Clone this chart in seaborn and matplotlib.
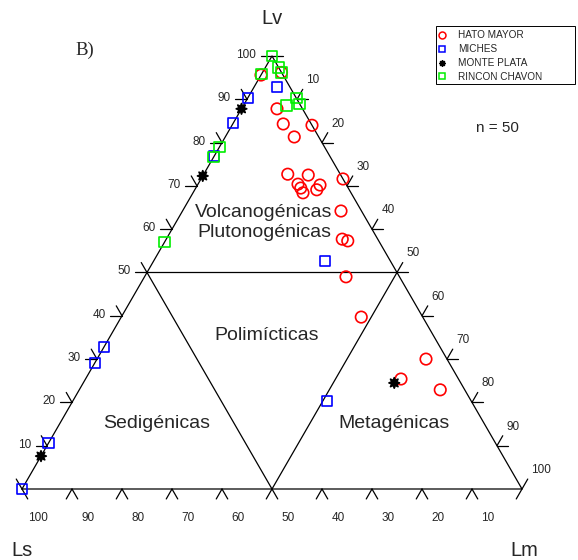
import numpy as np
import pandas as pd
import matplotlib
matplotlib.use("Agg")
import matplotlib.pyplot as plt
import seaborn as sns
from matplotlib.lines import Line2D
from matplotlib.patches import Rectangle

# ---------------- data (Lv, Lm, Ls in %) ----------------
groups = ["HATO MAYOR", "MICHES", "MONTE PLATA", "RINCON CHAVON"]

hato_lv = [95.6, 96.2, 87.8, 84.3, 84.0, 81.3, 72.7, 72.5, 70.4, 69.5, 68.4,
           70.2, 69.1, 71.6, 64.2, 57.7, 57.3, 49.0, 39.7, 30.0, 25.4, 22.9]
hato_lm = [0.0, 3.8, 7.1, 10.1, 16.0, 13.8, 16.8, 21.0, 20.0, 21.0, 22.0,
           24.5, 24.4, 28.4, 31.7, 35.2, 36.5, 40.3, 48.0, 65.8, 63.1, 72.2]
hato_ls = [4.4, 0.0, 5.1, 5.6, 0.0, 4.9, 10.5, 6.5, 9.6, 9.5, 9.6,
           5.3, 6.5, 0.0, 4.1, 7.1, 6.2, 10.7, 12.3, 4.2, 11.5, 4.9]

miches_lv = [0.0, 10.6, 29.1, 32.8, 76.9, 84.5, 90.3, 92.8, 52.7, 20.3]
miches_lm = [0.0, 0.0, 0.0, 0.0, 0.0, 0.0, 0.0, 4.6, 34.3, 50.9]
miches_ls = [100.0, 89.4, 70.9, 67.2, 23.1, 15.5, 9.7, 2.6, 13.0, 28.8]

monte_lv = [7.6, 72.3, 87.8, 24.5]
monte_lm = [0.0, 0.0, 0.0, 62.2]
monte_ls = [92.4, 27.7, 12.2, 13.3]

rincon_lv = [100.0, 95.8, 97.4, 96.2, 90.3, 88.9, 88.5, 79.0, 76.7, 57.0]
rincon_lm = [0.0, 0.0, 2.6, 3.8, 9.7, 11.0, 8.6, 0.0, 0.0, 0.0]
rincon_ls = [0.0, 4.2, 0.0, 0.0, 0.0, 0.1, 2.9, 21.0, 23.3, 43.0]

tick_values = [0, 10, 20, 30, 40, 50, 60, 70, 80, 90, 100]
tick_labels = ["10", "20", "30", "40", "50", "60", "70", "80", "90", "100"]
field_names = ["Volcanogénicas\nPlutonogénicas", "Polimícticas", "Sedigénicas", "Metagénicas"]

colors = {"HATO MAYOR": "#ff0000", "MICHES": "#0000ff",
          "MONTE PLATA": "#000000", "RINCON CHAVON": "#00ee00"}
markers = {"HATO MAYOR": "o", "MICHES": "s", "MONTE PLATA": (8, 1, 0), "RINCON CHAVON": "s"}
sizes = {"HATO MAYOR": 68, "MICHES": 52, "MONTE PLATA": 58, "RINCON CHAVON": 58}

S3 = np.sqrt(3) / 2


def tern(lv, lm):
    lv = np.asarray(lv, float)
    lm = np.asarray(lm, float)
    return lm + lv / 2.0, lv * S3


frames = []
for g, lv, lm, ls in [("HATO MAYOR", hato_lv, hato_lm, hato_ls),
                      ("MICHES", miches_lv, miches_lm, miches_ls),
                      ("MONTE PLATA", monte_lv, monte_lm, monte_ls),
                      ("RINCON CHAVON", rincon_lv, rincon_lm, rincon_ls)]:
    tot = np.asarray(lv) + np.asarray(lm) + np.asarray(ls)
    x, y = tern(np.asarray(lv) / tot * 100, np.asarray(lm) / tot * 100)
    frames.append(pd.DataFrame({"x": x, "y": y, "group": g}))
df = pd.concat(frames, ignore_index=True)

# ---------------- figure ----------------
sns.set_theme(style="white")
plt.rcParams["font.family"] = ["Liberation Sans", "DejaVu Sans"]

fig = plt.figure(figsize=(5.78, 5.60), dpi=100)
ax = fig.add_axes([0, 0, 1, 1])
ax.set_xlim(-4.4, 111.2)
ax.set_ylim(-14.2, 97.8)
ax.axis("off")

lw = 0.9
A = np.array([0.0, 0.0])          # Ls
B = np.array([100.0, 0.0])        # Lm
C = np.array([50.0, 100 * S3])    # Lv
tri = np.array([A, B, C, A])
ax.plot(tri[:, 0], tri[:, 1], color="black", lw=lw, zorder=2)

# inner field lines
mL = (A + C) / 2
mR = (B + C) / 2
mB = (A + B) / 2
for p, q in [(mL, mR), (mL, mB), (mR, mB)]:
    ax.plot([p[0], q[0]], [p[1], q[1]], color="black", lw=lw, zorder=2)

edges = [(A, B), (B, C), (C, A)]


def on_edge_line(p, q):
    for e0, e1 in edges:
        d = e1 - e0
        c1 = d[0] * (p[1] - e0[1]) - d[1] * (p[0] - e0[0])
        c2 = d[0] * (q[1] - e0[1]) - d[1] * (q[0] - e0[0])
        if abs(c1) < 1e-6 and abs(c2) < 1e-6:
            return True
    return False


L = 2.3
dirs = {
    "bottom": [np.array([-0.5, -S3]), np.array([0.5, -S3])],
    "left": [np.array([-1.0, 0.0]), np.array([-0.5, S3])],
    "right": [np.array([1.0, 0.0]), np.array([0.5, S3])],
}
for v in tick_values:
    pts = {
        "bottom": np.array(tern(0, 100 - v), float),   # Ls = v
        "left": np.array(tern(v, 0), float),           # Lv = v
        "right": np.array(tern(100 - v, v), float),    # Lm = v
    }
    for side, p in pts.items():
        for d in dirs[side]:
            q = p + L * d
            if on_edge_line(p, q):
                continue
            ax.plot([p[0], q[0]], [p[1], q[1]], color="black", lw=lw, zorder=2)

fs_tick = 8.5
for v, lab in zip(tick_values[1:], tick_labels):
    # bottom (Ls)
    px, py = tern(0, 100 - v)
    ax.text(px + 3.2, py - 5.8, lab, ha="center", va="center", fontsize=fs_tick)
    # left (Lv)
    px, py = tern(v, 0)
    ax.text(px - 3.2, py + 0.2, lab, ha="right", va="center", fontsize=fs_tick)
    # right (Lm)
    px, py = tern(100 - v, v)
    ax.text(px + 1.9, py + 3.8, lab, ha="left", va="center", fontsize=fs_tick)

# apex labels
ax.text(50, 94.2, "Lv", ha="center", va="center", fontsize=14.5)
ax.text(0, -12.2, "Ls", ha="center", va="center", fontsize=14.5)
ax.text(100.4, -12.2, "Lm", ha="center", va="center", fontsize=14.5)
ax.text(12.6, 87.8, "B)", ha="center", va="center", fontsize=13.5,
        family=["Liberation Serif", "DejaVu Serif"])
ax.text(95.0, 72.2, "n = 50", ha="center", va="center", fontsize=11)

# field names
ax.text(48.4, 53.3, field_names[0], ha="center", va="center", fontsize=14, linespacing=1.3)
ax.text(49.0, 30.8, field_names[1], ha="center", va="center", fontsize=14)
ax.text(27.0, 13.0, field_names[2], ha="center", va="center", fontsize=14)
ax.text(74.4, 13.0, field_names[3], ha="center", va="center", fontsize=14)

# points
sns.scatterplot(data=df, x="x", y="y", hue="group", style="group", size="group",
                palette=colors, markers=markers, sizes=sizes, legend=False,
                linewidth=1.2, ax=ax, zorder=5, clip_on=False)
coll = ax.collections[-1]
fc = np.array(coll.get_facecolors())
ec = fc.copy()
fc_new = fc.copy()
is_black = (fc[:, 0] < 0.1) & (fc[:, 1] < 0.1) & (fc[:, 2] < 0.1)
fc_new[~is_black, 3] = 0.0
coll.set_edgecolors(ec)
coll.set_facecolors(fc_new)

# legend
handles = []
for g in groups:
    m = markers[g]
    if g == "MONTE PLATA":
        h = Line2D([], [], ls="none", marker=m, color=colors[g], markersize=4.5)
    else:
        h = Line2D([], [], ls="none", marker=m, markerfacecolor="none",
                   markeredgecolor=colors[g], markeredgewidth=1.1, markersize=5)
    handles.append(h)
leg = ax.legend(handles, groups, loc="upper left",
                bbox_to_anchor=(434 / 578, 1 - 27 / 560), bbox_transform=fig.transFigure,
                borderaxespad=0, frameon=False, fontsize=7.2,
                handlelength=0.8, handletextpad=1.3, labelspacing=0.38,
                borderpad=0.35)
fig.patches.append(Rectangle((436 / 578, 1 - 84 / 560), 139 / 578, 58 / 560,
                             transform=fig.transFigure, fill=False,
                             edgecolor="black", linewidth=0.7, figure=fig))

fig.savefig("out.png", dpi=100)
